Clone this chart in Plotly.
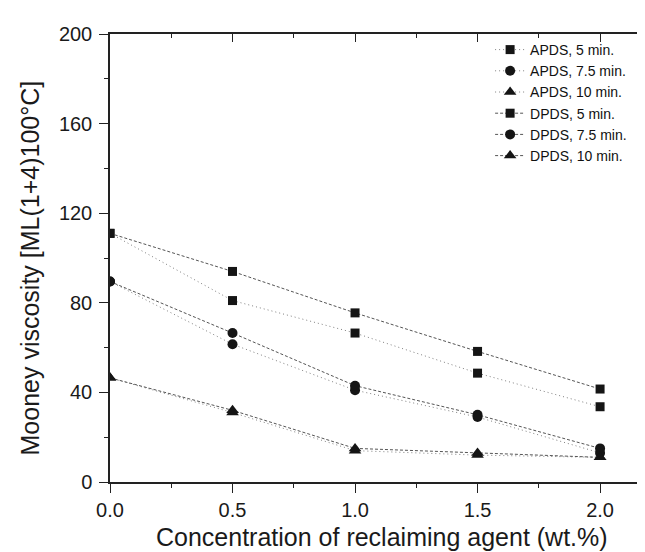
import plotly.graph_objects as go

conc = [0.0, 0.5, 1.0, 1.5, 2.0]

apds_5 = [111, 81, 66.5, 48.6, 33.6]
apds_75 = [89.5, 61.5, 41, 29, 13]
apds_10 = [46.5, 31, 14, 12, 11]
dpds_5 = [111, 94, 75.5, 58.3, 41.5]
dpds_75 = [89.5, 66.5, 43, 30, 15]
dpds_10 = [46.5, 32, 15, 13, 11]

series = [
    ("APDS, 5 min.", apds_5, "square", 9, "dot"),
    ("APDS, 7.5 min.", apds_75, "circle", 10, "dot"),
    ("APDS, 10 min.", apds_10, "triangle-up", 11, "dot"),
    ("DPDS, 5 min.", dpds_5, "square", 9, "dash"),
    ("DPDS, 7.5 min.", dpds_75, "circle", 10, "dash"),
    ("DPDS, 10 min.", dpds_10, "triangle-up", 11, "dash"),
]

x_title = "Concentration of reclaiming agent (wt.%)"
y_title = "Mooney viscosity [ML(1+4)100°C]"

FONT = "Liberation Sans, Arial, sans-serif"
AX = "#222222"
TXT = "#1a1a1a"

fig = go.Figure()
for name, vals, sym, size, style in series:
    if style == "dot":
        line = dict(color="#808080", width=1, dash="1px,3px")
    else:
        line = dict(color="#555555", width=1, dash="3px,2px")
    fig.add_trace(go.Scatter(
        x=conc, y=vals, name=name, mode="lines+markers",
        line=line,
        marker=dict(symbol=sym, size=size, color="#151515", line=dict(width=0)),
    ))

# transparent carrier trace on a twin (top) axis frame so its line and inward ticks are drawn
fig.add_trace(go.Scatter(x=conc, y=dpds_5, xaxis="x2", yaxis="y2",
                         mode="markers", marker=dict(opacity=0, size=1),
                         showlegend=False, hoverinfo="skip"))

XMAX = 2.216

fig.update_layout(
    width=645, height=552,
    margin=dict(l=102, r=0, t=26, b=78),
    paper_bgcolor="white", plot_bgcolor="rgba(0,0,0,0)",
    font=dict(family=FONT, color=TXT),
    showlegend=True,
    legend=dict(
        x=0.70, y=1.0, xanchor="left", yanchor="top",
        bgcolor="rgba(0,0,0,0)", borderwidth=0,
        font=dict(family=FONT, size=14, color="#111111"),
        tracegroupgap=0,
    ),
    xaxis=dict(
        range=[0, XMAX], showgrid=False, zeroline=False,
        showline=True, linecolor=AX, linewidth=1.5,
        ticks="outside", ticklen=9, tickwidth=1.2, tickcolor=AX,
        tick0=0, dtick=0.5, tickformat=".1f",
        minor=dict(dtick=0.25, ticks="outside", ticklen=4, tickwidth=1.2, tickcolor=AX),
        tickfont=dict(family=FONT, size=20, color=TXT),
    ),
    xaxis2=dict(
        range=[0, XMAX], side="top", anchor="y2",
        showgrid=False, zeroline=False, showticklabels=False,
        showline=True, linecolor=AX, linewidth=1.5,
        ticks="inside", ticklen=8, tickwidth=1.2, tickcolor=AX,
        tick0=0, dtick=0.5,
        minor=dict(dtick=0.25, ticks="inside", ticklen=4, tickwidth=1.2, tickcolor=AX),
    ),
    yaxis2=dict(
        range=[0, 200], overlaying="y", anchor="x2", side="right",
        visible=False, showgrid=False, zeroline=False,
    ),
    yaxis=dict(
        range=[0, 200], showgrid=False, zeroline=False,
        showline=True, linecolor=AX, linewidth=1.5,
        ticks="outside", ticklen=9, tickwidth=1.2, tickcolor=AX,
        tick0=0, dtick=40, ticklabelstandoff=3,
        minor=dict(dtick=20, ticks="outside", ticklen=4, tickwidth=1.2, tickcolor=AX),
        tickfont=dict(family=FONT, size=20, color=TXT),
    ),
    annotations=[
        dict(text=x_title, xref="paper", yref="paper", x=0.5, y=-0.122,
             xanchor="center", yanchor="middle", showarrow=False,
             font=dict(family=FONT, size=25, color=TXT)),
        dict(text=y_title, xref="paper", yref="paper", x=-0.148, y=0.478,
             xanchor="center", yanchor="middle", showarrow=False, textangle=-90,
             font=dict(family=FONT, size=25, color=TXT)),
    ],
)

fig.write_html("out.html")
